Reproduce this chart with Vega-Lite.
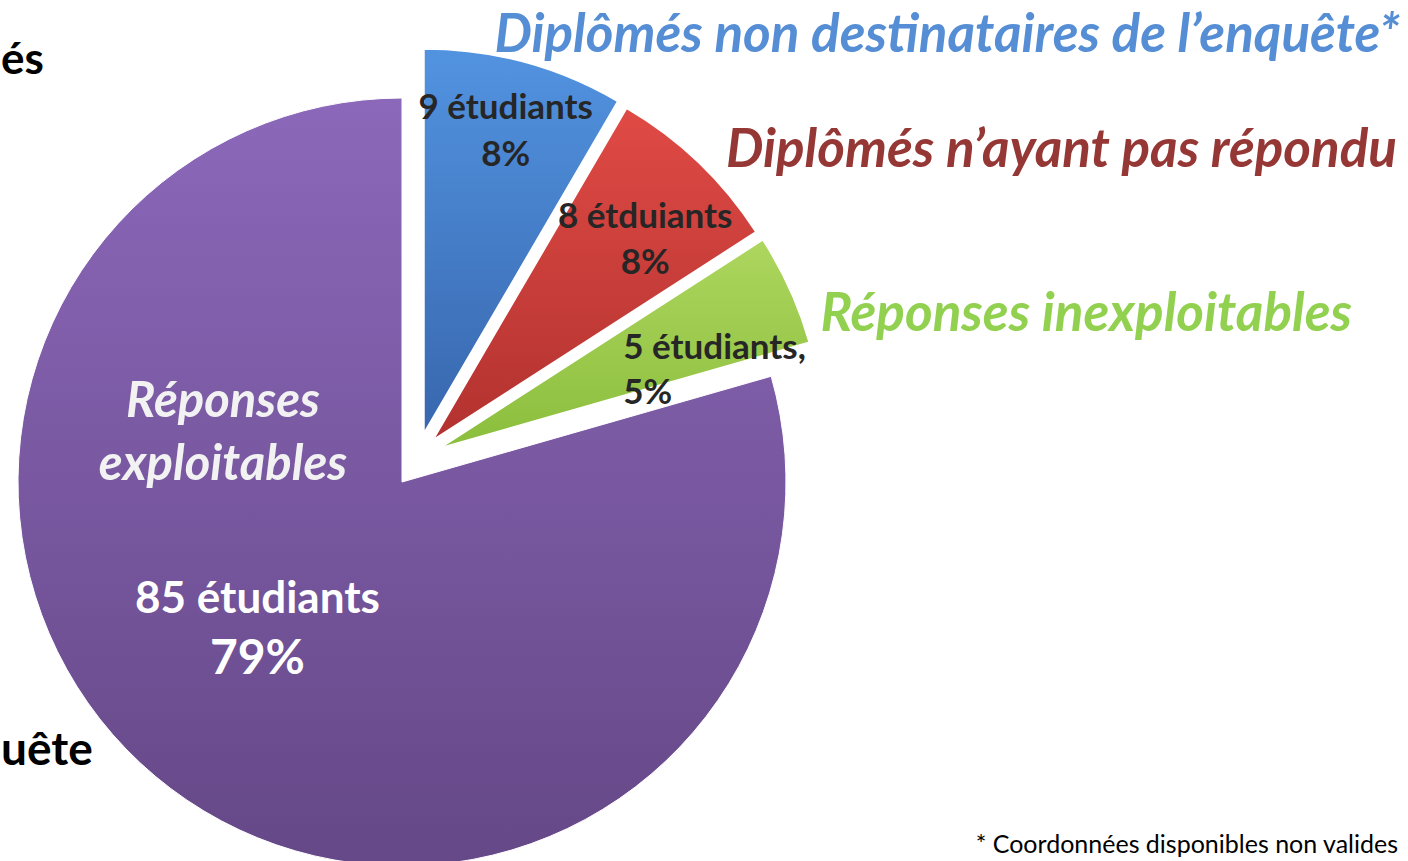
{
  "$schema": "https://vega.github.io/schema/vega-lite/v6.json",
  "width": 804,
  "height": 758,
  "autosize": {"type": "none"},
  "padding": {"left": 0, "top": 103, "right": 604, "bottom": 0},
  "background": "#ffffff",
  "config": {"view": {"stroke": null}, "font": "Lato"},
  "data": {
    "values": [
      {"categorie": "Diplômés non destinataires de l’enquête*", "effectif": 9, "etiquette": "9 étudiants", "pourcentage": "8%"},
      {"categorie": "Diplômés n’ayant pas répondu", "effectif": 8, "etiquette": "8 étduiants", "pourcentage": "8%"},
      {"categorie": "Réponses inexploitables", "effectif": 5, "etiquette": "5 étudiants,", "pourcentage": "5%"},
      {"categorie": "Réponses exploitables", "effectif": 85, "etiquette": "85 étudiants", "pourcentage": "79%"}
    ]
  },
  "transform": [{"window": [{"op": "row_number", "as": "rang"}]}],
  "layer": [
    {
      "mark": {"type": "arc", "radius": 384, "stroke": "#ffffff", "strokeWidth": 1,
        "fill": {"gradient": "linear", "x1": 0, "y1": 0, "x2": 0, "y2": 1, "stops": [{"offset": 0, "color": "#8C68BA"}, {"offset": 1, "color": "#654887"}]}},
      "encoding": {
        "theta": {"field": "effectif", "type": "quantitative", "stack": true},
        "order": {"field": "rang", "type": "quantitative"},
        "opacity": {"condition": {"test": "datum.effectif === 85", "value": 1}, "value": 0}
      }
    },
    {
      "mark": {"type": "arc", "radius": 384, "xOffset": 22, "yOffset": -49, "stroke": "#ffffff", "strokeWidth": 1.5,
        "fill": {"gradient": "linear", "x1": 0, "y1": 0, "x2": 0, "y2": 1, "stops": [{"offset": 0, "color": "#5293E0"}, {"offset": 1, "color": "#3867AE"}]}},
      "encoding": {
        "theta": {"field": "effectif", "type": "quantitative", "stack": true},
        "order": {"field": "rang", "type": "quantitative"},
        "opacity": {"condition": {"test": "datum.effectif === 9", "value": 1}, "value": 0}
      }
    },
    {
      "mark": {"type": "arc", "radius": 384, "xOffset": 31, "yOffset": -42, "stroke": "#ffffff", "strokeWidth": 1.5,
        "fill": {"gradient": "linear", "x1": 0, "y1": 0, "x2": 0, "y2": 1, "stops": [{"offset": 0, "color": "#E04A45"}, {"offset": 1, "color": "#B2322F"}]}},
      "encoding": {
        "theta": {"field": "effectif", "type": "quantitative", "stack": true},
        "order": {"field": "rang", "type": "quantitative"},
        "opacity": {"condition": {"test": "datum.effectif === 8", "value": 1}, "value": 0}
      }
    },
    {
      "mark": {"type": "arc", "radius": 384, "xOffset": 38, "yOffset": -34, "stroke": "#ffffff", "strokeWidth": 1.5,
        "fill": {"gradient": "linear", "x1": 0, "y1": 0, "x2": 0, "y2": 1, "stops": [{"offset": 0, "color": "#ADD65E"}, {"offset": 1, "color": "#8BBE3D"}]}},
      "encoding": {
        "theta": {"field": "effectif", "type": "quantitative", "stack": true},
        "order": {"field": "rang", "type": "quantitative"},
        "opacity": {"condition": {"test": "datum.effectif === 5", "value": 1}, "value": 0}
      }
    },
    {
      "mark": {"type": "text", "radius": 313, "dx": 22, "dy": -72, "fontSize": 35, "fontWeight": "bold", "color": "#262626", "align": "center", "baseline": "middle"},
      "encoding": {
        "theta": {"field": "effectif", "type": "quantitative", "stack": true},
        "order": {"field": "rang", "type": "quantitative"},
        "text": {"field": "etiquette"},
        "opacity": {"condition": {"test": "datum.effectif === 9", "value": 1}, "value": 0}
      }
    },
    {
      "mark": {"type": "text", "radius": 313, "dx": 22, "dy": -25, "fontSize": 35, "fontWeight": "bold", "color": "#262626", "align": "center", "baseline": "middle"},
      "encoding": {
        "theta": {"field": "effectif", "type": "quantitative", "stack": true},
        "order": {"field": "rang", "type": "quantitative"},
        "text": {"field": "pourcentage"},
        "opacity": {"condition": {"test": "datum.effectif === 9", "value": 1}, "value": 0}
      }
    },
    {
      "mark": {"type": "text", "radius": 291, "dx": 42, "dy": -55, "fontSize": 35, "fontWeight": "bold", "color": "#262626", "align": "center", "baseline": "middle"},
      "encoding": {
        "theta": {"field": "effectif", "type": "quantitative", "stack": true},
        "order": {"field": "rang", "type": "quantitative"},
        "text": {"field": "etiquette"},
        "opacity": {"condition": {"test": "datum.effectif === 8", "value": 1}, "value": 0}
      }
    },
    {
      "mark": {"type": "text", "radius": 291, "dx": 42, "dy": -9, "fontSize": 35, "fontWeight": "bold", "color": "#262626", "align": "center", "baseline": "middle"},
      "encoding": {
        "theta": {"field": "effectif", "type": "quantitative", "stack": true},
        "order": {"field": "rang", "type": "quantitative"},
        "text": {"field": "pourcentage"},
        "opacity": {"condition": {"test": "datum.effectif === 8", "value": 1}, "value": 0}
      }
    },
    {
      "mark": {"type": "text", "radius": 199, "dx": 40, "dy": -52, "fontSize": 35, "fontWeight": "bold", "color": "#262626", "align": "left", "baseline": "middle"},
      "encoding": {
        "theta": {"field": "effectif", "type": "quantitative", "stack": true},
        "order": {"field": "rang", "type": "quantitative"},
        "text": {"field": "etiquette"},
        "opacity": {"condition": {"test": "datum.effectif === 5", "value": 1}, "value": 0}
      }
    },
    {
      "mark": {"type": "text", "radius": 199, "dx": 40, "dy": -7, "fontSize": 35, "fontWeight": "bold", "color": "#262626", "align": "left", "baseline": "middle"},
      "encoding": {
        "theta": {"field": "effectif", "type": "quantitative", "stack": true},
        "order": {"field": "rang", "type": "quantitative"},
        "text": {"field": "pourcentage"},
        "opacity": {"condition": {"test": "datum.effectif === 5", "value": 1}, "value": 0}
      }
    },
    {
      "mark": {"type": "text", "radius": 187, "dx": -32, "dy": -31, "fontSize": 44, "fontWeight": "bold", "color": "#ffffff", "align": "center", "baseline": "middle"},
      "encoding": {
        "theta": {"field": "effectif", "type": "quantitative", "stack": true},
        "order": {"field": "rang", "type": "quantitative"},
        "text": {"field": "etiquette"},
        "opacity": {"condition": {"test": "datum.effectif === 85", "value": 1}, "value": 0}
      }
    },
    {
      "mark": {"type": "text", "radius": 187, "dx": -32, "dy": 29, "fontSize": 48, "fontWeight": "bold", "color": "#ffffff", "align": "center", "baseline": "middle"},
      "encoding": {
        "theta": {"field": "effectif", "type": "quantitative", "stack": true},
        "order": {"field": "rang", "type": "quantitative"},
        "text": {"field": "pourcentage"},
        "opacity": {"condition": {"test": "datum.effectif === 85", "value": 1}, "value": 0}
      }
    },
    {
      "transform": [{"filter": "datum.effectif === 85"}],
      "mark": {"type": "text", "x": 223, "y": 299, "lineBreak": " ", "lineHeight": 63, "fontSize": 49, "fontWeight": "bold", "fontStyle": "italic", "color": "#F2F2F2", "align": "center", "baseline": "middle"},
      "encoding": {"text": {"field": "categorie"}}
    },
    {
      "transform": [{"filter": "datum.effectif === 9"}],
      "mark": {"type": "text", "x": 1400, "y": -51, "fontSize": 53, "fontWeight": "bold", "fontStyle": "italic", "color": "#558ED5", "align": "right", "baseline": "alphabetic"},
      "encoding": {"text": {"field": "categorie"}}
    },
    {
      "transform": [{"filter": "datum.effectif === 8"}],
      "mark": {"type": "text", "x": 1397, "y": 64, "fontSize": 53, "fontWeight": "bold", "fontStyle": "italic", "color": "#953735", "align": "right", "baseline": "alphabetic"},
      "encoding": {"text": {"field": "categorie"}}
    },
    {
      "transform": [{"filter": "datum.effectif === 5"}],
      "mark": {"type": "text", "x": 1352, "y": 228, "fontSize": 53, "fontWeight": "bold", "fontStyle": "italic", "color": "#92D050", "align": "right", "baseline": "alphabetic"},
      "encoding": {"text": {"field": "categorie"}}
    },
    {
      "data": {"values": [{"note": "* Coordonnées disponibles non valides"}]},
      "mark": {"type": "text", "x": 1398, "y": 750, "fontSize": 25, "color": "#000000", "align": "right", "baseline": "alphabetic"},
      "encoding": {"text": {"field": "note"}}
    },
    {
      "data": {"values": [{"fragment": "és"}]},
      "mark": {"type": "text", "x": 1, "y": -29, "fontSize": 44, "fontWeight": "bold", "color": "#000000", "align": "left", "baseline": "alphabetic"},
      "encoding": {"text": {"field": "fragment"}}
    },
    {
      "data": {"values": [{"fragment": "uête"}]},
      "mark": {"type": "text", "x": 1, "y": 662, "fontSize": 46, "fontWeight": "bold", "color": "#000000", "align": "left", "baseline": "alphabetic"},
      "encoding": {"text": {"field": "fragment"}}
    }
  ]
}
